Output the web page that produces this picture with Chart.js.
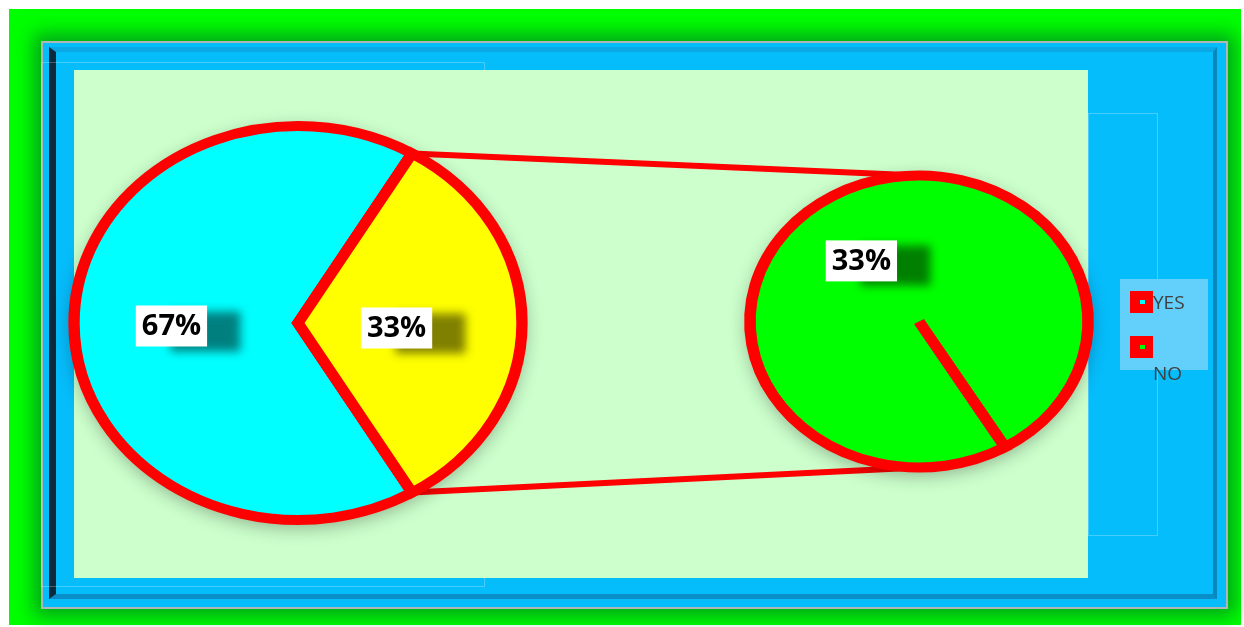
<!DOCTYPE html>
<html>
<head>
<meta charset="utf-8">
<script src="https://cdn.jsdelivr.net/npm/chart.js@4.4.1/dist/chart.umd.min.js"></script>
<style>
body{margin:0;background:#fff;width:1244px;height:627px;overflow:hidden;position:relative;font-family:"Open Sans",sans-serif}
.abs{position:absolute;box-sizing:border-box}
#outer{left:9px;top:9px;width:1232px;height:616px;background:#00ff00}
#frame{left:41px;top:41px;width:1187px;height:568px;background:#06bdfc;border:2px solid #aeb6b8;box-shadow:0 0 18px 7px rgba(0,100,45,.6)}
#bevel{left:49px;top:47px;width:1168px;height:552px;border-top:5px solid #0aa8e4;border-left:7px solid #0b2b3c;border-right:4px solid #0a86bf;border-bottom:5px solid #0a8ec8}
#faint1{left:41px;top:62px;width:444px;height:525px;border:1px solid rgba(255,255,255,.25)}
#faint2{left:1088px;top:113px;width:70px;height:423px;border:1px solid rgba(255,255,255,.25)}
#plot{left:74px;top:70px;width:1014px;height:508px;background:#ccffcc}
canvas{position:absolute;left:0;top:0}
#legend{left:1120px;top:279px;width:88px;height:91px;background:#63cffb}
.sw{position:absolute;width:23px;height:22px;background:#ff0000}
.sw i{position:absolute;left:10px;top:9px;width:5px;height:4px}
.lt{position:absolute;font-size:19px;color:#404040;line-height:22px}
</style>
</head>
<body>
<div id="outer" class="abs"></div>
<div id="frame" class="abs"></div>
<div id="bevel" class="abs"></div>
<div id="faint1" class="abs"></div>
<div id="faint2" class="abs"></div>
<div id="plot" class="abs"></div>
<canvas id="mainPie" width="1244" height="627"></canvas>
<canvas id="subPie" width="1244" height="627"></canvas>
<div id="legend" class="abs"></div>
<script>
// answers
var categories = ['YES', 'NO'];
var shares = [67, 33];
var otherName = 'Other';
var mainColors = ['#00ffff', '#ffff00'];
var subColors = ['#00ff00'];
var legendColors = ['#00ffff', '#00ff00'];

var total = shares[0] + shares[1];
// the "other" slice sits centred on the right side
var startRot = 90 + shares[1] / total * 180;

function piePlugin(sx, labelR, shift, connectTo) {
  return {
    id: 'ellipsePie',
    beforeDatasetsDraw: function(chart) {
      var ctx = chart.ctx;
      var arc = chart.getDatasetMeta(0).data[0];
      if (connectTo) {
        var sub = connectTo().getDatasetMeta(0).data[0];
        var other = chart.getDatasetMeta(0).data[1];
        var R = other.outerRadius;
        ctx.save();
        ctx.strokeStyle = '#ff0000';
        ctx.lineWidth = 6;
        ctx.beginPath();
        ctx.moveTo(arc.x + Math.cos(other.startAngle) * R * sx, arc.y + Math.sin(other.startAngle) * R);
        ctx.lineTo(sub.x, sub.y - sub.outerRadius);
        ctx.moveTo(arc.x + Math.cos(other.endAngle) * R * sx, arc.y + Math.sin(other.endAngle) * R);
        ctx.lineTo(sub.x, sub.y + sub.outerRadius);
        ctx.stroke();
        ctx.restore();
      }
      ctx.save();
      ctx.translate(arc.x, arc.y);
      ctx.scale(sx, 1);
      ctx.translate(-arc.x, -arc.y);
      ctx.save();
      ctx.shadowColor = 'rgba(0,0,0,0.3)';
      ctx.shadowBlur = 18;
      ctx.shadowOffsetY = 5;
      ctx.fillStyle = '#ccffcc';
      ctx.beginPath();
      ctx.arc(arc.x, arc.y, arc.outerRadius + 3, 0, Math.PI * 2);
      ctx.fill();
      ctx.restore();
    },
    afterDatasetsDraw: function(chart) {
      var ctx = chart.ctx;
      ctx.restore();
      var ds = chart.data.datasets[0];
      chart.getDatasetMeta(0).data.forEach(function(arc, i) {
        var mid = (arc.startAngle + arc.endAngle) / 2;
        var r = arc.outerRadius * labelR[i];
        var x = arc.x + Math.cos(mid) * r * sx + shift[i][0];
        var y = arc.y + Math.sin(mid) * r + shift[i][1];
        var txt = ds.data[i] + '%';
        ctx.font = 'bold 29px "Open Sans"';
        var w = ctx.measureText(txt).width + 12, h = 41;
        ctx.save();
        ctx.shadowColor = 'rgba(0,0,0,0.5)';
        ctx.shadowBlur = 9;
        ctx.shadowOffsetX = 34;
        ctx.shadowOffsetY = 5;
        ctx.fillStyle = '#ffffff';
        ctx.fillRect(x - w / 2, y - h / 2, w, h);
        ctx.restore();
        ctx.fillStyle = '#000000';
        ctx.textAlign = 'center';
        ctx.textBaseline = 'middle';
        ctx.fillText(txt, x, y + 1);
      });
    }
  };
}

function pieOptions(rot, radius, pad) {
  return {
    responsive: false,
    animation: false,
    events: [],
    rotation: rot,
    radius: radius,
    layout: {padding: pad},
    plugins: {legend: {display: false}, tooltip: {enabled: false}}
  };
}

var subChart = new Chart(document.getElementById('subPie'), {
  type: 'pie',
  data: {
    labels: [categories[1]],
    datasets: [{data: [shares[1]], backgroundColor: subColors, borderColor: '#ff0000', borderWidth: 10, borderJoinStyle: 'miter'}]
  },
  options: pieOptions(startRot, 146, {left: 594, right: 0, top: 16, bottom: 0}),
  plugins: [piePlugin(1.158, [0.53], [[-12, 6]], null)]
});

var mainChart = new Chart(document.getElementById('mainPie'), {
  type: 'pie',
  data: {
    labels: [categories[0], otherName],
    datasets: [{data: [shares[0], shares[1]], backgroundColor: mainColors, borderColor: '#ff0000', borderWidth: 10, borderJoinStyle: 'miter'}]
  },
  options: pieOptions(startRot, 197, {left: 0, right: 648, top: 19, bottom: 0}),
  plugins: [piePlugin(1.137, [0.565, 0.44], [[0, 3], [0, 5]], function() { return subChart; })]
});

// legend
var leg = document.getElementById('legend');
var tops = [12, 57];
var textTops = [12, 83];
categories.forEach(function(c, i) {
  var sw = document.createElement('div');
  sw.className = 'sw';
  sw.style.left = '10px';
  sw.style.top = tops[i] + 'px';
  var inner = document.createElement('i');
  inner.style.background = legendColors[i];
  sw.appendChild(inner);
  leg.appendChild(sw);
  var t = document.createElement('div');
  t.className = 'lt';
  t.style.left = '33px';
  t.style.top = textTops[i] + 'px';
  t.textContent = c;
  leg.appendChild(t);
});
</script>
</body>
</html>
